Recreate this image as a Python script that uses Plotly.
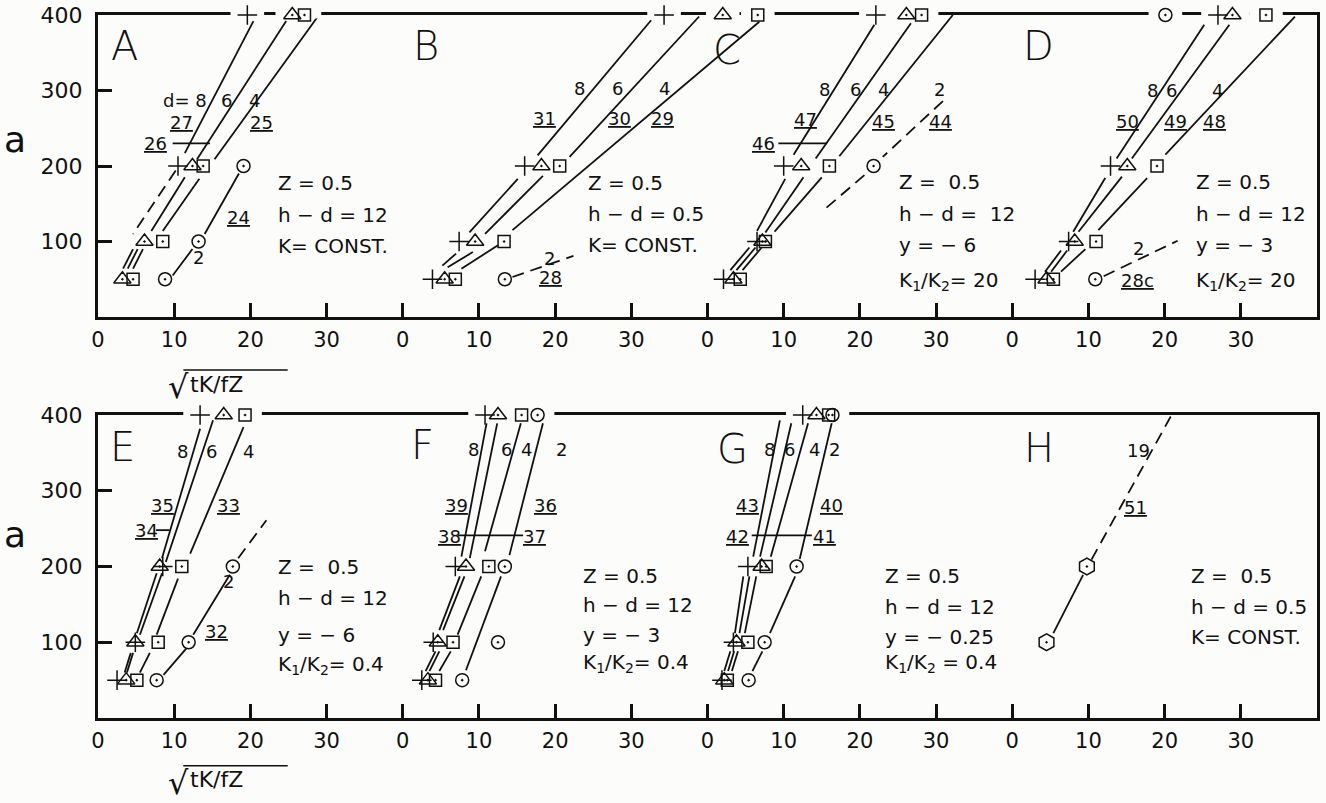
import plotly.graph_objects as go

# ---------------- data (x = sqrt(tK/fZ), y = a) ----------------
X_TICKS = [0, 10, 20, 30]
Y_TICKS = [100, 200, 300, 400]
PANEL_SPAN = 40

# Panel A
A_plus = [[19.6, 400], [10.5, 200]]
A_tri = [[25.5, 400], [12.4, 200], [6.1, 100], [3.2, 50]]
A_sq = [[27.1, 400], [13.8, 200], [8.5, 100], [4.6, 50]]
A_circ = [[19.1, 200], [13.2, 100], [8.8, 50]]
A_solid = [[20.4, 392, 11.4, 217], [24.7, 392, 13.0, 209], [29.0, 400, 15.3, 209],
           [11.4, 185, 7.0, 114], [13.3, 183, 8.5, 114],
           [4.6, 90, 3.3, 64], [5.2, 90, 3.9, 64], [5.9, 90, 4.6, 64],
           [9.8, 55, 12.4, 90], [14.0, 110, 18.5, 190], [9.8, 230, 14.7, 230]]
A_dashed = [[10.2, 194, 4.6, 110]]
A_labels = [["d= 8", 11.4, 287], ["6", 16.8, 287], ["4", 20.6, 287], ["<u>27</u>", 11.0, 258],
            ["<u>25</u>", 21.4, 258], ["<u>26</u>", 7.5, 230], ["<u>24</u>", 18.5, 132], ["2", 13.2, 79]]
A_notes = ["Z = 0.5", "h − d = 12", "K= CONST."]
A_notes_y = [178, 135, 94]

# Panel B
B_plus = [[34.3, 400], [16.0, 200], [7.4, 100], [3.9, 50]]
B_tri = [[42.0, 400], [18.2, 200], [9.5, 100], [5.5, 50]]
B_sq = [[46.6, 400], [20.6, 200], [13.3, 100], [6.9, 50]]
B_circ = [[13.4, 50]]
B_solid = [[32.6, 393, 17.7, 214], [38.9, 398, 21.9, 212], [46.8, 391, 14.4, 115],
           [15.1, 183, 8.75, 112], [18.4, 187, 10.8, 110],
           [7.0, 84, 5.2, 68], [9.2, 86, 5.9, 66], [12.5, 95, 7.7, 64]]
B_dashed = [[14.4, 53, 22.4, 81]]
B_labels = [["8", 23.2, 302], ["6", 28.2, 302], ["4", 34.3, 302], ["<u>31</u>", 18.6, 263],
            ["<u>30</u>", 28.4, 263], ["<u>29</u>", 34.1, 263], ["2", 19.3, 78], ["<u>28</u>", 19.4, 52]]
B_notes = ["Z = 0.5", "h − d = 0.5", "K= CONST."]
B_notes_y = [178, 137, 95]

# Panel C
C_plus = [[22.1, 400], [10.0, 200], [6.5, 100], [2.1, 50]]
C_tri = [[26.1, 400], [12.3, 200], [7.2, 100], [3.4, 50]]
C_sq = [[28.1, 400], [16.0, 200], [7.6, 100], [4.3, 50]]
C_circ = [[21.8, 200]]
C_solid = [[21.9, 387, 11.3, 215], [26.7, 389, 14.2, 210], [32.2, 400, 17.3, 213],
           [10.2, 183, 6.5, 114], [12.6, 185, 7.6, 112], [15.0, 185, 8.8, 113],
           [5.5, 92, 3.0, 62], [6.3, 92, 3.8, 62], [7.1, 92, 4.6, 62],
           [9.3, 230, 15.7, 230]]
C_dashed = [[30.9, 286, 23.0, 212], [20.6, 188, 15.3, 142]]
C_labels = [["8", 15.4, 301], ["6", 19.4, 301], ["4", 23.1, 301], ["2", 30.5, 301],
            ["<u>47</u>", 12.9, 262], ["<u>46</u>", 7.4, 230], ["<u>45</u>", 23.1, 259], ["<u>44</u>", 30.6, 259]]
C_notes = ["Z =  0.5", "h − d =  12", "y = − 6", "K<sub>1</sub>/K<sub>2</sub>= 20"]
C_notes_y = [179, 137, 95, 48]

# Panel D
D_plus = [[27.0, 400], [12.9, 200], [7.4, 100], [3.0, 50]]
D_tri = [[28.9, 400], [15.1, 200], [8.2, 100], [4.5, 50]]
D_sq = [[33.3, 400], [19.0, 200], [11.0, 100], [5.4, 50]]
D_circ = [[20.1, 400], [10.9, 50]]
D_solid = [[25.2, 387, 13.7, 210], [28.5, 387, 15.7, 210], [37.1, 398, 20.1, 215],
           [12.2, 184, 8.0, 113], [14.4, 186, 8.7, 113], [17.7, 184, 11.3, 115],
           [6.4, 88, 4.3, 60], [7.2, 88, 5.1, 60], [9.6, 90, 6.4, 60]]
D_dashed = [[12.0, 54, 21.7, 101]]
D_labels = [["8", 18.4, 300], ["6", 20.9, 300], ["4", 27.0, 300], ["<u>50</u>", 15.1, 259],
            ["<u>49</u>", 21.4, 259], ["<u>48</u>", 26.6, 259], ["2", 16.6, 91], ["<u>28c</u>", 16.4, 49]]
D_notes = ["Z = 0.5", "h − d = 12", "y = − 3", "K<sub>1</sub>/K<sub>2</sub>= 20"]
D_notes_y = [179, 137, 95, 48]

# Panel E
E_plus = [[13.4, 400], [8.5, 200], [4.9, 100], [2.5, 50]]
E_tri = [[16.5, 400], [8.1, 200], [4.9, 100], [3.7, 50]]
E_sq = [[19.3, 400], [11.0, 200], [7.9, 100], [5.1, 50]]
E_circ = [[17.7, 200], [11.9, 100], [7.7, 50]]
E_solid = [[13.4, 382, 8.4, 211], [15.1, 393, 8.9, 206], [19.1, 384, 12.1, 217],
           [7.7, 191, 5.1, 112], [8.4, 191, 5.5, 110], [10.5, 184, 7.7, 110],
           [4.3, 86, 3.5, 60], [4.6, 86, 3.8, 60], [6.8, 86, 5.5, 60],
           [8.6, 57, 11.6, 92], [12.5, 110, 17.3, 189], [7.6, 248, 9.4, 248]]
E_dashed = [[18.4, 211, 22.1, 261]]
E_labels = [["8", 11.1, 352], ["6", 14.9, 352], ["4", 19.8, 352], ["<u>35</u>", 8.4, 280],
            ["<u>34</u>", 6.4, 248], ["<u>33</u>", 17.1, 280], ["2", 17.1, 180], ["<u>32</u>", 15.6, 114]]
E_notes = ["Z =  0.5", "h − d = 12", "y = − 6", "K<sub>1</sub>/K<sub>2</sub>= 0.4"]
E_notes_y = [200, 159, 110, 70]

# Panel F
F_plus = [[10.8, 400], [6.9, 200], [4.0, 100], [2.5, 50]]
F_tri = [[12.5, 400], [8.3, 200], [4.6, 100], [3.3, 50]]
F_sq = [[15.6, 400], [11.3, 200], [6.6, 100], [4.3, 50]]
F_circ = [[17.7, 400], [13.4, 200], [12.5, 100], [7.8, 50]]
F_solid = [[11.0, 389, 7.7, 213], [12.4, 389, 8.8, 211], [15.5, 389, 10.8, 220], [18.4, 389, 14.0, 215],
           [7.5, 187, 4.8, 116], [8.1, 187, 5.3, 116], [10.3, 187, 7.2, 110], [12.9, 187, 8.3, 63],
           [4.3, 88, 3.0, 62], [4.8, 88, 3.5, 62], [6.3, 88, 4.8, 62],
           [7.2, 241, 15.8, 241]]
F_dashed = []
F_labels = [["8", 9.3, 354], ["6", 13.6, 354], ["4", 16.2, 354], ["2", 20.8, 354],
            ["<u>39</u>", 7.0, 281], ["<u>38</u>", 6.2, 239], ["<u>37</u>", 17.3, 239], ["<u>36</u>", 18.8, 281]]
F_notes = ["Z = 0.5", "h − d = 12", "y = − 3", "K<sub>1</sub>/K<sub>2</sub>= 0.4"]
F_notes_y = [188, 149, 110, 72]

# Panel G
G_plus = [[12.5, 400], [5.3, 200], [3.4, 100], [1.9, 50]]
G_tri = [[14.3, 400], [7.1, 200], [3.8, 100], [2.2, 50]]
G_sq = [[15.9, 400], [7.7, 200], [5.3, 100], [2.6, 50]]
G_circ = [[16.4, 400], [11.7, 200], [7.5, 100], [5.4, 50]]
G_solid = [[9.5, 393, 6.0, 213], [11.0, 389, 6.9, 213], [13.2, 389, 8.3, 213], [16.3, 389, 12.1, 210],
           [4.7, 187, 3.6, 112], [5.5, 187, 4.2, 112], [6.4, 187, 4.9, 112], [11.5, 187, 8.2, 112],
           [3.0, 88, 2.2, 62], [3.5, 88, 2.7, 62], [4.0, 88, 3.2, 62], [7.2, 88, 5.9, 62],
           [5.8, 241, 13.7, 241]]
G_dashed = []
G_labels = [["8", 8.2, 354], ["6", 10.7, 354], ["4", 14.1, 354], ["2", 16.7, 354],
            ["<u>43</u>", 5.3, 281], ["<u>42</u>", 4.0, 239], ["<u>41</u>", 15.4, 239], ["<u>40</u>", 16.3, 281]]
G_notes = ["Z = 0.5", "h − d = 12", "y = − 0.25", "K<sub>1</sub>/K<sub>2</sub> = 0.4"]
G_notes_y = [187, 147, 107, 72]

# Panel H
H_hex = [[4.5, 100], [9.8, 200]]
H_solid = [[5.4, 112, 9.3, 189]]
H_dashed = [[10.4, 209, 20.8, 398]]
H_labels = [["19", 16.6, 353], ["<u>51</u>", 16.2, 278]]
H_notes = ["Z =  0.5", "h − d = 0.5", "K= CONST."]
H_notes_y = [188, 147, 107]

PANEL_LETTERS = ["A", "B", "C", "D", "E", "F", "G", "H"]
LETTER_XY = [[3.5, 359], [3.1, 359], [2.6, 354], [3.4, 359], [3.2, 358], [2.6, 360], [3.3, 355], [3.5, 356]]
NOTES_X = [23.4, 24.0, 24.9, 23.9, 23.4, 23.4, 23.1, 23.2]

panels = [
    dict(row=1, col=0, plus=A_plus, tri=A_tri, sq=A_sq, circ=A_circ, hexa=[], solid=A_solid,
         dashed=A_dashed, labels=A_labels, notes=A_notes, notes_y=A_notes_y),
    dict(row=1, col=1, plus=B_plus, tri=B_tri, sq=B_sq, circ=B_circ, hexa=[], solid=B_solid,
         dashed=B_dashed, labels=B_labels, notes=B_notes, notes_y=B_notes_y),
    dict(row=1, col=2, plus=C_plus, tri=C_tri, sq=C_sq, circ=C_circ, hexa=[], solid=C_solid,
         dashed=C_dashed, labels=C_labels, notes=C_notes, notes_y=C_notes_y),
    dict(row=1, col=3, plus=D_plus, tri=D_tri, sq=D_sq, circ=D_circ, hexa=[], solid=D_solid,
         dashed=D_dashed, labels=D_labels, notes=D_notes, notes_y=D_notes_y),
    dict(row=2, col=0, plus=E_plus, tri=E_tri, sq=E_sq, circ=E_circ, hexa=[], solid=E_solid,
         dashed=E_dashed, labels=E_labels, notes=E_notes, notes_y=E_notes_y),
    dict(row=2, col=1, plus=F_plus, tri=F_tri, sq=F_sq, circ=F_circ, hexa=[], solid=F_solid,
         dashed=F_dashed, labels=F_labels, notes=F_notes, notes_y=F_notes_y),
    dict(row=2, col=2, plus=G_plus, tri=G_tri, sq=G_sq, circ=G_circ, hexa=[], solid=G_solid,
         dashed=G_dashed, labels=G_labels, notes=G_notes, notes_y=G_notes_y),
    dict(row=2, col=3, plus=[], tri=[], sq=[], circ=[], hexa=H_hex, solid=H_solid,
         dashed=H_dashed, labels=H_labels, notes=H_notes, notes_y=H_notes_y),
]

# ---------------- styling ----------------
BG = "#fcfcfa"
INK = "#111111"
FONT = "DejaVu Sans"
SYMBOLS = [("plus", "cross-thin", 14), ("tri", "triangle-up-open-dot", 15),
           ("sq", "square-open-dot", 12), ("circ", "circle-open-dot", 13),
           ("hexa", "hexagon-open-dot", 17)]
AXES = {1: ("x", "y"), 2: ("x2", "y2")}

fig = go.Figure()

for row in (1, 2):
    xa, ya = AXES[row]
    rows = [p for p in panels if p["row"] == row]

    # solid and dashed curve segments
    for key, dash in (("solid", "solid"), ("dashed", "12px,7px")):
        xs, ys = [], []
        for p in rows:
            off = p["col"] * PANEL_SPAN
            for x0, y0, x1, y1 in p[key]:
                xs += [x0 + off, x1 + off, None]
                ys += [y0, y1, None]
        fig.add_trace(go.Scatter(x=xs, y=ys, mode="lines", xaxis=xa, yaxis=ya,
                                 line=dict(color=INK, width=1.8, dash=dash),
                                 hoverinfo="skip", showlegend=False))

    # white gaps in the top border behind the points plotted at a = 400
    hx, hy = [], []
    for p in rows:
        off = p["col"] * PANEL_SPAN
        for key, _, _ in SYMBOLS:
            for x, y in p[key]:
                if y == 400:
                    hx.append(x + off)
                    hy.append(y)
    fig.add_trace(go.Scatter(x=hx, y=hy, mode="markers", xaxis=xa, yaxis=ya, cliponaxis=False,
                             marker=dict(symbol="line-ew", size=24, line=dict(color=BG, width=7)),
                             hoverinfo="skip", showlegend=False))

    # point symbols
    for key, sym, size in SYMBOLS:
        xs, ys = [], []
        for p in rows:
            off = p["col"] * PANEL_SPAN
            for x, y in p[key]:
                xs.append(x + off)
                ys.append(y)
        if not xs:
            continue
        fig.add_trace(go.Scatter(x=xs, y=ys, mode="markers", xaxis=xa, yaxis=ya, cliponaxis=False,
                                 marker=dict(symbol=sym, size=size, color=INK,
                                             line=dict(color=INK, width=1.5)),
                                 showlegend=False))

annotations = []
for i, p in enumerate(panels):
    xa, ya = AXES[p["row"]]
    off = p["col"] * PANEL_SPAN
    lx, ly = LETTER_XY[i]
    annotations.append(dict(x=lx + off, y=ly, xref=xa, yref=ya, text=PANEL_LETTERS[i], showarrow=False,
                            font=dict(family=FONT, size=40, color=INK, weight=200)))
    for text, x, y in p["labels"]:
        annotations.append(dict(x=x + off, y=y, xref=xa, yref=ya, text=text, showarrow=False,
                                font=dict(family=FONT, size=18, color=INK)))
    for text, y in zip(p["notes"], p["notes_y"]):
        annotations.append(dict(x=NOTES_X[i] + off, y=y, xref=xa, yref=ya, text=text, showarrow=False,
                                xanchor="left", font=dict(family=FONT, size=20, color=INK)))

# axis titles
for ya, ay in (("y", 235), ("y2", 242)):
    annotations.append(dict(x=-0.068, y=ay, xref="paper", yref=ya, text="a", showarrow=False,
                            xanchor="center", yanchor="middle",
                            font=dict(family=FONT, size=36, color=INK)))
for xa, py in (("x", 0.475), ("x2", -0.088)):
    annotations.append(dict(x=10.5, y=py - 0.004, xref=xa, yref="paper", text="√", showarrow=False,
                            xanchor="center", yanchor="middle",
                            font=dict(family=FONT, size=32, color=INK)))
    annotations.append(dict(x=11.8, y=py, xref=xa, yref="paper", text="tK/fZ", showarrow=False,
                            xanchor="left", yanchor="middle", font=dict(family=FONT, size=22, color=INK)))

shapes = []
for xa, py in (("x", 0.495), ("x2", -0.068)):
    shapes.append(dict(type="line", xref=xa, yref="paper", x0=11.2, x1=24.9, y0=py, y1=py,
                       line=dict(color=INK, width=1.6)))

x_font = dict(family=FONT, size=21, color=INK)
y_font = dict(family=FONT, size=22, color=INK)
x_common = dict(range=[0, 4 * PANEL_SPAN],
                tickvals=[k * PANEL_SPAN + t for k in range(4) for t in X_TICKS],
                ticktext=[str(t) for k in range(4) for t in X_TICKS],
                ticks="inside", ticklen=14, tickwidth=2.5, tickcolor=INK,
                showline=True, linewidth=3, linecolor=INK, mirror=True,
                showgrid=False, zeroline=False, layer="below traces", automargin=False,
                tickfont=x_font, ticklabelstandoff=2, fixedrange=True)
y_common = dict(range=[0, 400], tickvals=Y_TICKS, ticks="inside", ticklen=14, tickwidth=2.5,
                tickcolor=INK, showline=True, linewidth=3, linecolor=INK, mirror=True,
                showgrid=False, zeroline=False, layer="below traces", automargin=False,
                tickfont=y_font, ticklabelstandoff=8, fixedrange=True)

top_dom = [1 - 302 / 703, 1]
bot_dom = [0, 303 / 703]

layout = dict(
    width=1326, height=803,
    margin=dict(l=98, r=9, t=15, b=85),
    paper_bgcolor=BG, plot_bgcolor=BG,
    showlegend=False,
    xaxis=dict(x_common, anchor="y"),
    yaxis=dict(y_common, domain=top_dom, anchor="x"),
    xaxis2=dict(x_common, anchor="y2"),
    yaxis2=dict(y_common, domain=bot_dom, anchor="x2"),
    annotations=annotations,
    shapes=shapes,
)

# inner panel borders with their own inside ticks
n = 3
for base in ("y", "y2"):
    for k in (1, 2, 3):
        layout["yaxis%d" % n] = dict(overlaying=base, anchor="free", position=k / 4, side="left",
                                     range=[0, 400], tickvals=Y_TICKS[:3], ticks="inside", ticklen=14,
                                     tickwidth=2.5, tickcolor=INK, showticklabels=False,
                                     showline=True, linewidth=3, linecolor=INK, showgrid=False,
                                     zeroline=False, layer="below traces", automargin=False,
                                     fixedrange=True)
        n += 1

fig.update_layout(**layout)
fig.write_html("out.html", config=dict(displayModeBar=False),
               post_script="document.body.style.margin='0';document.body.style.overflow='hidden';")
